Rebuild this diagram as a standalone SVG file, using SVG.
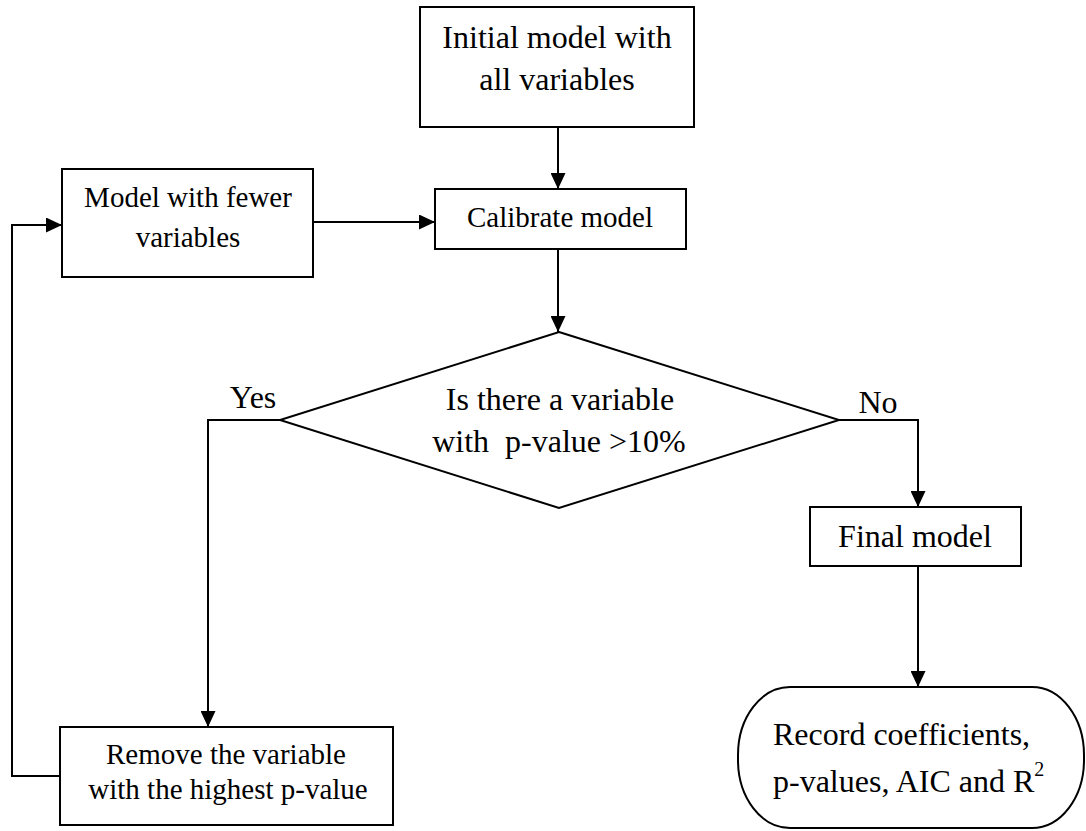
<svg xmlns="http://www.w3.org/2000/svg" width="1086" height="831" viewBox="0 0 1086 831">
<style>
.box{fill:#fff;stroke:#000;stroke-width:2}
.ln{fill:none;stroke:#000;stroke-width:2}
text{font-family:"Liberation Serif","Times New Roman",serif;fill:#000;text-anchor:middle}
.t32{font-size:32px}
.t29{font-size:29px}
</style>
<defs>
<marker id="ah" markerWidth="16" markerHeight="15" refX="16" refY="7.5" orient="auto" markerUnits="userSpaceOnUse">
<path d="M0,0 L16,7.5 L0,15 Z" fill="#000"/>
</marker>
</defs>
<rect width="1086" height="831" fill="#fff"/>
<g id="connectors">
<path class="ln" d="M558,127 L558,189" marker-end="url(#ah)"/>
<path class="ln" d="M313,222 L435,222" marker-end="url(#ah)"/>
<path class="ln" d="M558,249 L558,332" marker-end="url(#ah)"/>
<path class="ln" d="M280,420 L208,420 L208,727" marker-end="url(#ah)"/>
<path class="ln" d="M60,776 L12,776 L12,225 L62,225" marker-end="url(#ah)"/>
<path class="ln" d="M839,420 L918,420 L918,507" marker-end="url(#ah)"/>
<path class="ln" d="M918,566 L918,687" marker-end="url(#ah)"/>
<text class="t32" x="253" y="408">Yes</text>
<text class="t32" x="878" y="413">No</text>
</g>
<g id="initial">
<rect class="box" x="420" y="7" width="274" height="120"/>
<text class="t32" x="557" y="48">Initial model with</text>
<text class="t32" x="557" y="90">all variables</text>
</g>
<g id="calibrate">
<rect class="box" x="435" y="189" width="251" height="60"/>
<text class="t29" x="560" y="227">Calibrate model</text>
</g>
<g id="fewer">
<rect class="box" x="62" y="169" width="251" height="108"/>
<text class="t29" x="188" y="207">Model with fewer</text>
<text class="t29" x="188" y="247">variables</text>
</g>
<g id="decision">
<polygon class="box" points="559,332 839,420 559,508 280,420"/>
<text class="t32" x="560" y="410">Is there a variable</text>
<text class="t32" x="559" y="452" xml:space="preserve">with  p-value &gt;10%</text>
</g>
<g id="remove">
<rect class="box" x="60" y="727" width="333" height="98"/>
<text class="t29" x="226" y="764">Remove the variable</text>
<text class="t29" x="228" y="799">with the highest p-value</text>
</g>
<g id="final">
<rect class="box" x="810" y="507" width="211" height="59"/>
<text class="t32" x="915" y="547">Final model</text>
</g>
<g id="record">
<rect class="box" x="738" y="687" width="346" height="141" rx="52" ry="68"/>
<text class="t32" x="773" y="745" style="text-anchor:start">Record coefficients,</text>
<text class="t32" x="773" y="792" style="text-anchor:start">p-values, AIC and R<tspan font-size="20" dy="-16">2</tspan></text>
</g>
</svg>
